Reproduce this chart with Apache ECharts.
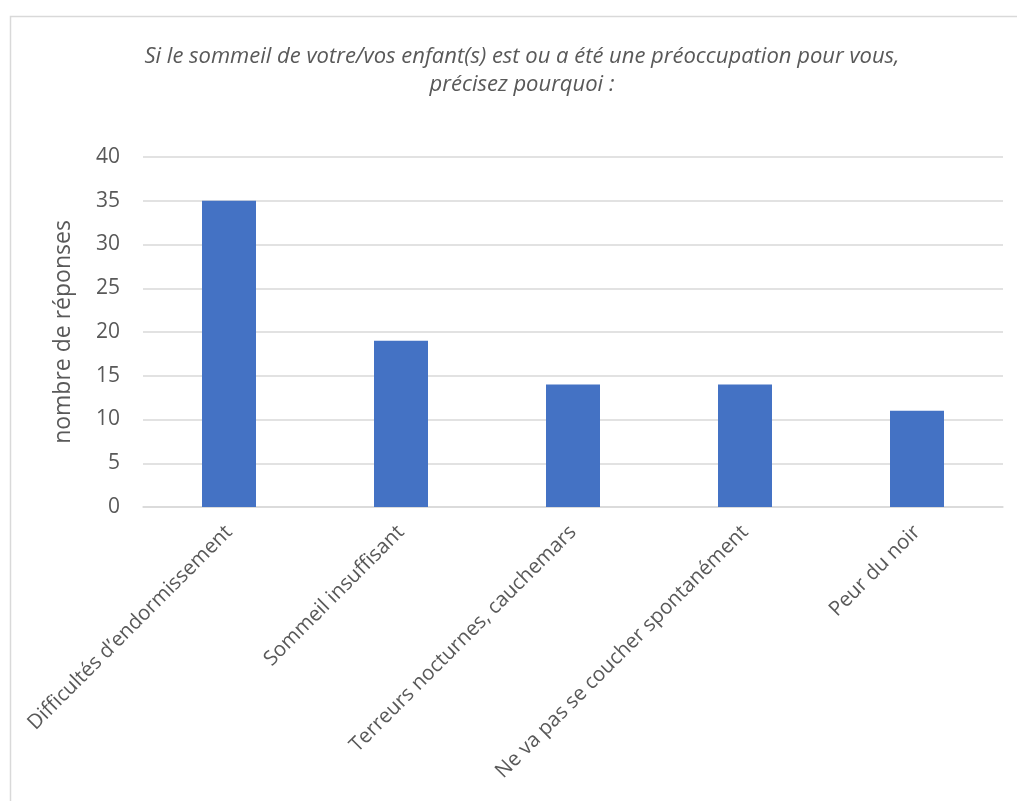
<!DOCTYPE html>
<html><head><meta charset="utf-8">
<script src="https://cdn.jsdelivr.net/npm/echarts@6/dist/echarts.min.js"></script>
<style>html,body{margin:0;padding:0;background:#fff}#c{width:1017px;height:801px}</style>
</head><body><div id="c"></div>
<script>
const categories = ["Difficultés d’endormissement","Sommeil insuffisant","Terreurs nocturnes, cauchemars","Ne va pas se coucher spontanément","Peur du noir"];
const values = [35, 19, 14, 14, 11];
const titleText = "Si le sommeil de votre/vos enfant(s) est ou a été une préoccupation pour vous,\nprécisez pourquoi :";
const yAxisName = "nombre de réponses";

const chart = echarts.init(document.getElementById('c'));
chart.setOption({
  animation: false,
  backgroundColor: '#fff',
  graphic: [{type:'rect', shape:{x:10.5,y:16.5,width:1020,height:800}, style:{fill:'none',stroke:'#d9d9d9',lineWidth:1.5}, silent:true}],
  title: {text: titleText, left: 517, top: 38, textAlign: 'center',
    textStyle:{fontFamily:'Open Sans', fontStyle:'italic', fontWeight:'normal', fontSize:22, color:'#595959', lineHeight:28}},
  grid: {left:143, right:14, top:157, bottom:294, containLabel:false},
  xAxis: {type:'category', data: categories,
    axisLine:{lineStyle:{color:'#d9d9d9', width:1.5}}, axisTick:{show:false},
    axisLabel:{rotate:45, interval:0, margin:22, fontFamily:'Open Sans', fontSize:20.5, color:'#595959'}},
  yAxis: {type:'value', min:0, max:40, interval:5,
    name: yAxisName, nameLocation:'middle', nameGap:68, nameRotate:90,
    nameTextStyle:{fontFamily:'Open Sans', fontSize:23, color:'#595959'},
    axisLine:{show:false}, axisTick:{show:false},
    splitLine:{lineStyle:{color:'#d9d9d9', width:1.5}},
    axisLabel:{margin:23, fontFamily:'Open Sans', fontSize:21, color:'#595959'}},
  series: [{type:'bar', data: values, barWidth:54, itemStyle:{color:'#4472c4'}}]
});
</script></body></html>
